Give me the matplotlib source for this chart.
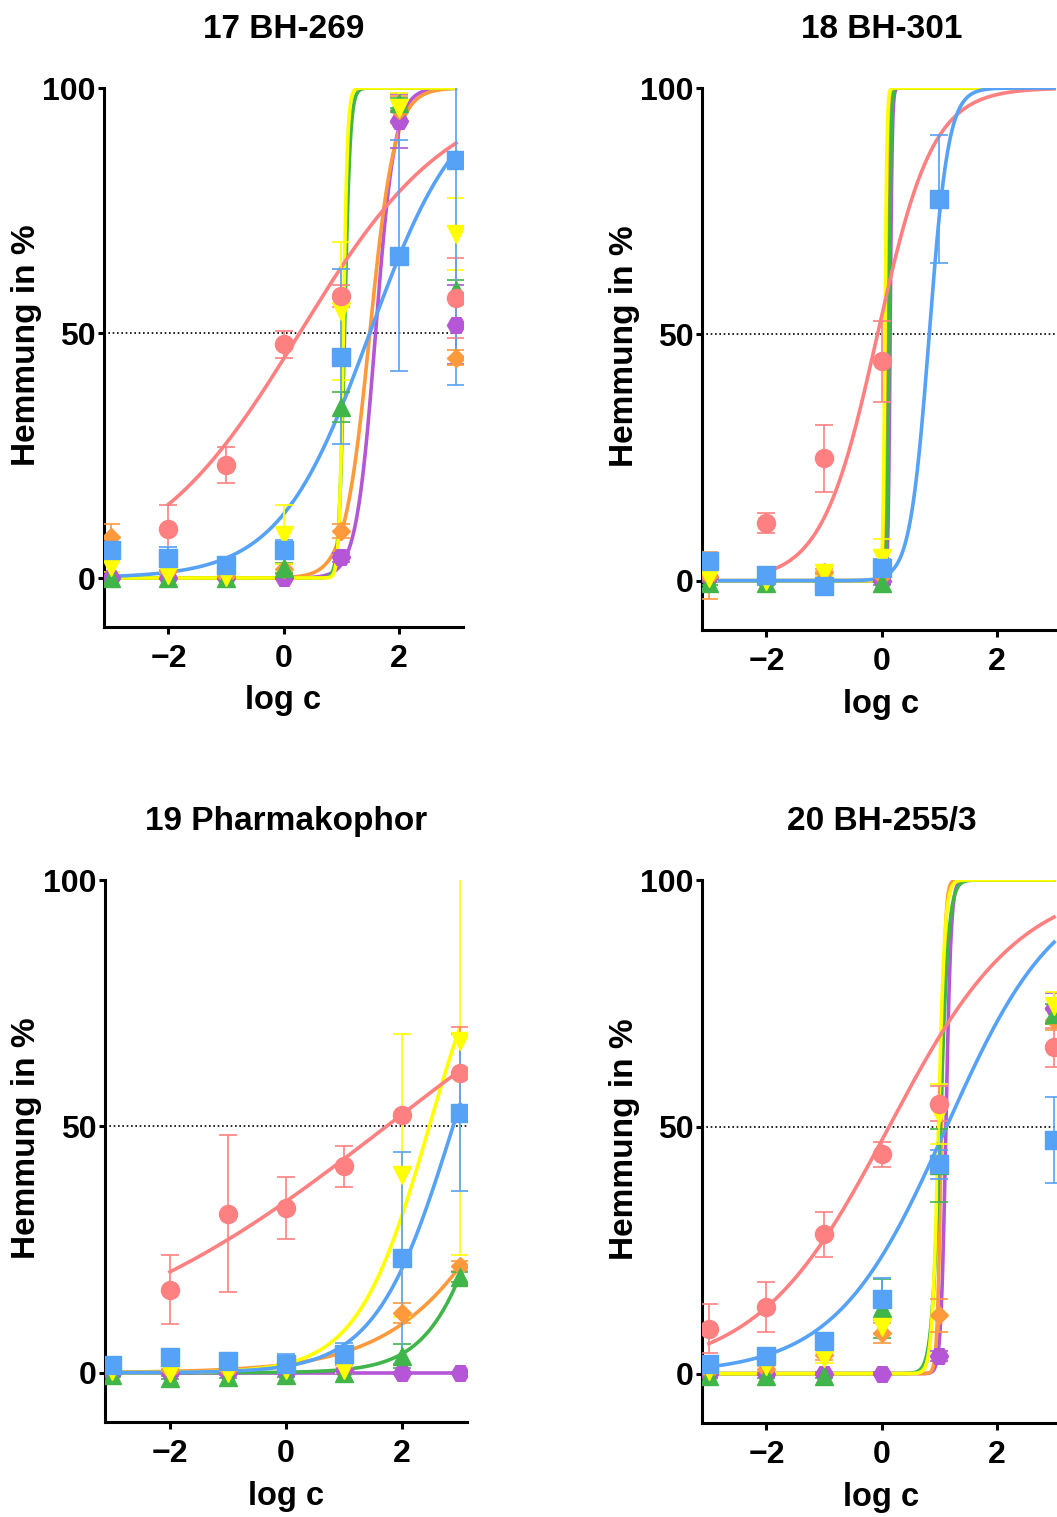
import numpy as np
import matplotlib
matplotlib.use("Agg")
import matplotlib.pyplot as plt

plt.rcParams['font.family'] = ['Liberation Sans', 'DejaVu Sans']
plt.rcParams['font.weight'] = 'bold'

# ============================================ Data ============================================
nan = np.nan
log_c = [-3, -2, -1, 0, 1, 2, 3]

titles = ["17 BH-269", "18 BH-301", "19 Pharmakophor", "20 BH-255/3"]
x_label = "log c"
y_label = "Hemmung in %"
x_ticks = [-2, 0, 2]
y_ticks = [0, 50, 100]

# draw order of the data sets (later ones on top)
series = ["purple", "orange", "green", "yellow", "salmon", "blue"]

# --- 17 BH-269: means / SEM
bh269_mean = dict(
    purple=[0, 0, 0, 0, 4.2, 93.2, 51.7],
    orange=[8.4, 1.5, 0.5, 1.8, 9.6, 95.6, 45.0],
    green=[0, 0, 0, 2.0, 34.9, 97.0, 58.8],
    yellow=[2.2, 0.7, 0.3, 8.8, 54.5, 96.0, 70.2],
    salmon=[nan, 9.9, 23.0, 47.7, 57.6, nan, 57.2],
    blue=[5.8, 4.0, 2.6, 5.8, 45.2, 65.8, 85.4],
)
bh269_sem = dict(
    purple=[0.3, 0.3, 0.3, 0.3, 1.0, 5.5, 8.0],
    orange=[2.6, 1.0, 0.5, 1.0, 1.5, 2.7, 1.5],
    green=[0.3, 0.3, 0.3, 1.0, 3.0, 1.0, 2.0],
    yellow=[1.0, 0.5, 0.3, 6.0, 14.0, 3.0, 7.3],
    salmon=[nan, 5.0, 3.7, 2.8, 2.2, nan, 8.2],
    blue=[1.5, 2.4, 0.8, 2.0, 17.9, 23.5, 46.0],
)
# fitted curves: (logIC50, Hill slope, first x of the curve)
bh269_fit = dict(
    purple=(1.60, 2.6, -3), orange=(1.50, 2.0, -3), green=(1.06, 9.0, -3),
    yellow=(1.04, 12.0, -3), salmon=(0.28, 0.33, -2), blue=(1.50, 0.55, -3),
)

# --- 18 BH-301
bh301_mean = dict(
    purple=[0.7, 0, 0, 0, nan, nan, nan],
    orange=[1.0, 0, 1.8, 1.0, nan, nan, nan],
    green=[-0.5, -0.5, 0, -0.5, nan, nan, nan],
    yellow=[0.5, 0, 1.5, 4.7, nan, nan, nan],
    salmon=[nan, 11.7, 24.9, 44.5, nan, nan, nan],
    blue=[4.0, 1.1, -1.1, 2.5, 77.4, nan, nan],
)
bh301_sem = dict(
    purple=[0.3, 0.3, 0.3, 0.3, nan, nan, nan],
    orange=[4.8, 0.3, 0.5, 0.5, nan, nan, nan],
    green=[0.3, 0.3, 0.3, 0.3, nan, nan, nan],
    yellow=[0.5, 0.3, 0.5, 3.7, nan, nan, nan],
    salmon=[nan, 2.0, 6.8, 8.3, nan, nan, nan],
    blue=[1.5, 1.0, 0.5, 2.0, 13.0, nan, nan],
)
bh301_fit = dict(
    purple=(0.15, 25, -3), orange=(0.08, 25, -3), green=(0.13, 25, -3),
    yellow=(0.06, 25, -3), salmon=(-0.07, 0.9, -2), blue=(0.83, 2.6, -3),
)

# --- 19 Pharmakophor
pharm_mean = dict(
    purple=[0, 0, 0, 0, 0.5, 0, 0],
    orange=[1.2, 0.5, 0.5, 1.0, 2.0, 12.1, 21.6],
    green=[-0.5, -1.0, -0.8, -0.5, 0, 3.4, 19.4],
    yellow=[0.3, 0, 0, 0.5, 0.5, 40.1, 67.3],
    salmon=[nan, 16.8, 32.3, 33.4, 41.9, 52.3, 60.8],
    blue=[1.6, 3.1, 2.3, 1.8, 3.8, 23.2, 52.8],
)
pharm_sem = dict(
    purple=[0.2, 0.2, 0.2, 0.2, 0.3, 0.2, 0.2],
    orange=[0.5, 0.3, 0.3, 0.5, 1.0, 2.0, 1.0],
    green=[0.3, 0.3, 0.3, 0.3, 0.3, 2.5, 1.0],
    yellow=[0.3, 0.3, 0.3, 0.5, 0.5, 28.7, 43.4],
    salmon=[nan, 7.0, 16.0, 6.3, 4.2, 0, 9.3],
    blue=[1.0, 1.5, 0.5, 2.0, 2.2, 21.5, 16.0],
)
pharm_fit = dict(
    purple=(12.0, 1.0, -3), orange=(4.40, 0.40, -3), green=(3.77, 0.79, -3),
    yellow=(2.47, 0.70, -3), salmon=(1.73, 0.158, -2), blue=(2.88, 0.65, -3),
)

# --- 20 BH-255/3
bh255_mean = dict(
    purple=[0, 0, 0, 0, 3.5, nan, 74.1],
    orange=[0.5, 1.0, 3.8, 8.2, 11.8, nan, 71.6],
    green=[-0.5, -0.5, -0.5, 13.2, 42.2, nan, 72.9],
    yellow=[0.5, 1.5, 3.1, 9.5, 52.6, nan, 74.4],
    salmon=[9.1, 13.5, 28.2, 44.4, 54.7, nan, 66.1],
    blue=[2.0, 3.6, 6.7, 15.1, 42.4, nan, 47.3],
)
bh255_sem = dict(
    purple=[0.3, 0.3, 0.3, 0.3, 1.0, nan, 3.0],
    orange=[0.3, 0.5, 1.0, 2.0, 3.4, nan, 2.0],
    green=[0.3, 0.3, 0.3, 6.0, 7.4, nan, 2.0],
    yellow=[0.5, 1.0, 1.0, 1.5, 6.0, nan, 3.0],
    salmon=[5.0, 5.0, 4.6, 2.5, 3.5, nan, 4.0],
    blue=[1.5, 1.0, 1.0, 4.3, 3.0, nan, 8.7],
)
bh255_fit = dict(
    purple=(1.12, 10, -3), orange=(1.04, 13, -3), green=(1.02, 6, -3),
    yellow=(0.99, 8, -3), salmon=(0.13, 0.38, -3), blue=(1.13, 0.45, -3),
)

# ================================================= Styles ============================================================
colors = dict(salmon='#FF8080', blue='#55A2F7', orange='#FF9A3C',
              yellow='#FFFF00', green='#40B54A', purple='#B456D6')
markers = dict(salmon='o', blue='s', orange='D', yellow='v', green='^', purple='H')
marker_sizes = dict(salmon=13, blue=13, orange=9.5, yellow=13, green=13, purple=13)


def hill_curve(x, log_ic50, hill):
    # 4PL dose response with bottom 0 and top 100
    return 100.0 / (1.0 + 10.0 ** ((log_ic50 - x) * hill))


def draw_panel(ax, title, means, sems, fits):
    for name in series:
        c = colors[name]
        log_ic50, hill, x_start = fits[name]
        xs = np.linspace(x_start, log_c[-1], 500)
        ax.plot(xs, hill_curve(xs, log_ic50, hill), color=c, lw=2.6, zorder=2)
        ax.errorbar(log_c, means[name], yerr=sems[name], fmt=markers[name], ms=marker_sizes[name],
                    color=c, mec=c, ecolor=c, elinewidth=1.2, capsize=6.3, capthick=1.2, zorder=3)

    ax.axhline(50, color='black', lw=1.2, ls=(0, (1, 1.6)), zorder=1)
    ax.set_xlim(-3.12, 3.12)
    ax.set_ylim(-10, 100)
    ax.set_xticks(x_ticks)
    ax.set_yticks(y_ticks)
    for side in ['top', 'right']:
        ax.spines[side].set_visible(False)
    for side in ['left', 'bottom']:
        ax.spines[side].set_linewidth(2.2)
    ax.tick_params(axis='both', width=2.2, labelsize=23)
    ax.tick_params(axis='y', length=4.5, pad=1.5)
    ax.tick_params(axis='x', length=5, pad=7)
    ax.set_title(title, fontsize=24, fontweight='bold', pad=36)
    ax.set_xlabel(x_label, fontsize=23.5, fontweight='bold', va='center')
    ax.set_ylabel(y_label, fontsize=24, fontweight='bold', va='center')
    ax.xaxis.set_label_coords(0.5, -0.137)
    ax.yaxis.set_label_coords(-0.217, 0.523)


W, H = 1057, 1517
fig = plt.figure(figsize=(W / 100, H / 100), dpi=100)


def add_axes_px(left, top, right, bottom):
    return fig.add_axes([left / W, 1 - bottom / H, (right - left) / W, (bottom - top) / H])


panels = [
    (add_axes_px(104, 88, 463, 627), bh269_mean, bh269_sem, bh269_fit),
    (add_axes_px(702, 88, 1061, 630), bh301_mean, bh301_sem, bh301_fit),
    (add_axes_px(105, 880, 467, 1422), pharm_mean, pharm_sem, pharm_fit),
    (add_axes_px(702, 880, 1061, 1423), bh255_mean, bh255_sem, bh255_fit),
]
for (ax, means, sems, fits), title in zip(panels, titles):
    draw_panel(ax, title, means, sems, fits)

plt.savefig("out.png", dpi=100)
